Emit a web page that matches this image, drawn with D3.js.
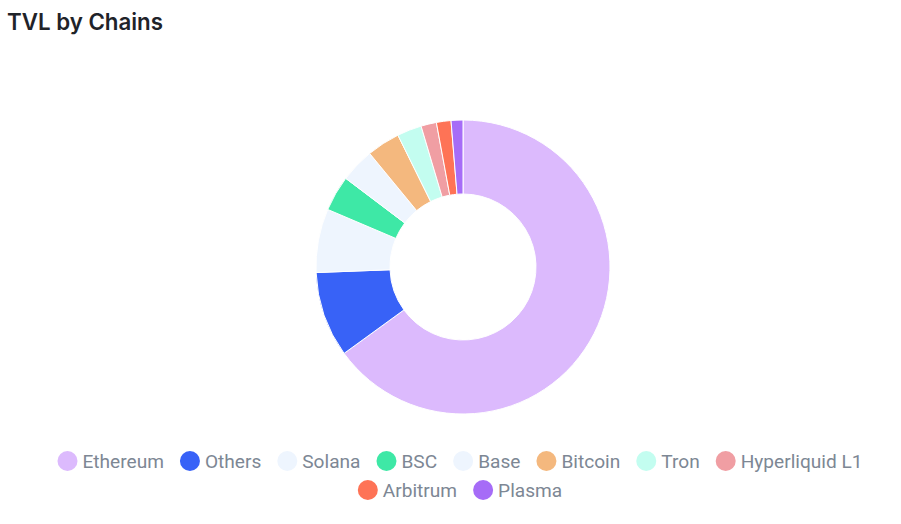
<!DOCTYPE html>
<html><head><meta charset="utf-8">
<script src="https://cdn.jsdelivr.net/npm/d3@7"></script>
<style>body{margin:0;background:#fff;}svg{display:block;}</style>
</head><body>
<svg id="chart" width="901" height="524"></svg>
<script>
const categories = ["Ethereum","Others","Solana","BSC","Base","Bitcoin","Tron","Hyperliquid L1","Arbitrum","Plasma"];
const values = [65.0, 9.4, 7.0, 3.9, 3.75, 3.65, 2.7, 1.7, 1.6, 1.3];
const colors = ["#dcbafd","#3862f7","#eef5fe","#3ee8a6","#eef5fe","#f4b87e","#c3fdf0","#f09ea3","#fe7356","#a66cf7"];

const svg = d3.select("#chart");
const W = 901;
svg.append("text").attr("x",7).attr("y",30)
  .attr("font-family","Inter, Roboto, sans-serif").attr("font-weight",600)
  .attr("font-size",22.3).attr("fill","#1f2329").text("TVL by Chains");

const cx = 463, cy = 267, rO = 147, rI = 73;
const data = categories.map((c,i)=>({name:c, value:values[i], color:colors[i]}));
const pie = d3.pie().value(d=>d.value).sort(null);
const arc = d3.arc().innerRadius(rI).outerRadius(rO);
svg.append("g").attr("transform",`translate(${cx},${cy})`)
  .selectAll("path").data(pie(data)).join("path")
  .attr("d",arc).attr("fill",d=>d.data.color)
  .attr("stroke","#fff").attr("stroke-width",1);

// legend
const fs = 19.1, rad = 10, gapCT = 5, gapItem = 16, maxW = 860;
const lg = svg.append("g");
const tmp = lg.append("text").attr("font-family","Roboto, sans-serif").attr("font-size",fs);
const items = data.map(d=>{ tmp.text(d.name); const w = tmp.node().getComputedTextLength(); return {d, w, total: rad*2+gapCT+w}; });
tmp.remove();
const rows = []; let cur = [], curW = 0;
items.forEach(it=>{
  const add = (cur.length?gapItem:0)+it.total;
  if (curW+add > maxW && cur.length){ rows.push({items:cur,w:curW}); cur=[it]; curW=it.total; }
  else { cur.push(it); curW+=add; }
});
if(cur.length) rows.push({items:cur,w:curW});
const rowY = [461, 490];
rows.forEach((row,ri)=>{
  let x = 460 - row.w/2;
  const y = rowY[ri] || (461+29*ri);
  row.items.forEach(it=>{
    lg.append("circle").attr("cx",x+rad).attr("cy",y).attr("r",rad).attr("fill",it.d.color);
    lg.append("text").attr("x",x+rad*2+gapCT).attr("y",y).attr("dy","0.35em")
      .attr("font-family","Roboto, sans-serif").attr("font-size",fs).attr("fill","#7d8794").text(it.d.name);
    x += it.total + gapItem;
  });
});
</script>
</body></html>
